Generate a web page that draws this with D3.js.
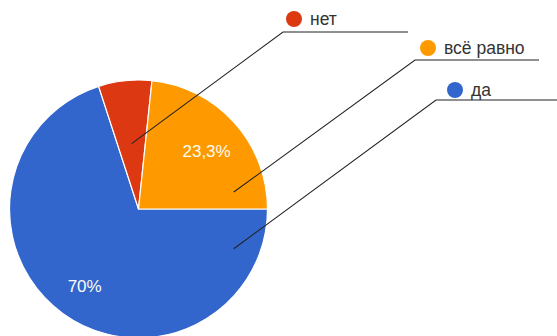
<!DOCTYPE html>
<html>
<head>
<meta charset="utf-8">
<script src="https://cdn.jsdelivr.net/npm/d3@7"></script>
<style>
  html, body { margin: 0; padding: 0; background: #fff; }
  svg { display: block; }
</style>
</head>
<body>
<svg id="chart" width="557" height="336"></svg>
<script>
// Survey answers (30 responses)
const categories = ["да", "нет", "всё равно"];
const counts = [21, 2, 7];
const colors = ["#3366cc", "#dc3912", "#ff9900"];

// Legend order on the right (top to bottom)
const legendOrder = ["нет", "всё равно", "да"];

const W = 557, H = 336;
const cx = 138.5, cy = 209, R = 129;

const svg = d3.select("#chart");
const total = d3.sum(counts);
const data = categories.map((c, i) => ({ name: c, value: counts[i], color: colors[i] }));

// Pie starts at 3 o'clock and runs clockwise
const pie = d3.pie().sort(null).value(d => d.value)
  .startAngle(Math.PI / 2).endAngle(Math.PI / 2 + 2 * Math.PI);
const arcs = pie(data);
const arc = d3.arc().innerRadius(0).outerRadius(R);
const labelArc = d3.arc().innerRadius(R * 0.71).outerRadius(R * 0.71);

const g = svg.append("g").attr("transform", `translate(${cx},${cy})`);

g.selectAll("path.slice").data(arcs).join("path")
  .attr("class", "slice")
  .attr("d", arc)
  .attr("fill", d => d.data.color)
  .attr("stroke", "#fff")
  .attr("stroke-width", 1.2);

// Percent labels inside the larger slices
const fmt = v => {
  const p = Math.round(v * 1000) / 10;
  return String(p).replace(".", ",") + "%";
};
g.selectAll("text.pct").data(arcs.filter(a => a.data.value / total >= 0.1)).join("text")
  .attr("class", "pct")
  .attr("transform", d => `translate(${labelArc.centroid(d)})`)
  .attr("text-anchor", "middle")
  .attr("dy", "0.55em")
  .attr("fill", "#fcfcf4")
  .style("font-family", "Arial, 'Liberation Sans', sans-serif")
  .style("font-size", "17px")
  .text(d => fmt(d.data.value / total));

// Callout layout: where each leader line starts inside its slice
// (fraction across the slice's angle, fraction of the radius), and the legend row
const callouts = {
  "нет":       { t: 0.5,  r: 0.51, dotX: 294, rowY: 19, lineX0: 283, lineX1: 408, lineY: 32 },
  "всё равно": { t: 0.88, r: 0.75, dotX: 428, rowY: 48, lineX0: 415, lineX1: 539, lineY: 60 },
  "да":        { t: 0.09, r: 0.80, dotX: 455, rowY: 90, lineX0: 436, lineX1: 580, lineY: 100 }
};

const lg = svg.append("g");
legendOrder.forEach(name => {
  const a = arcs.find(d => d.data.name === name);
  const c = callouts[name];
  const ang = a.startAngle + (a.endAngle - a.startAngle) * c.t;
  const ax = cx + Math.sin(ang) * R * c.r;
  const ay = cy - Math.cos(ang) * R * c.r;

  lg.append("path")
    .attr("d", `M${ax},${ay}L${c.lineX0},${c.lineY}L${c.lineX1},${c.lineY}`)
    .attr("fill", "none")
    .attr("stroke", "#222")
    .attr("stroke-width", 1.1);

  lg.append("circle")
    .attr("cx", c.dotX).attr("cy", c.rowY)
    .attr("r", 8)
    .attr("fill", a.data.color);

  lg.append("text")
    .attr("x", c.dotX + 16).attr("y", c.rowY)
    .attr("dy", "0.35em")
    .attr("fill", "#333")
    .style("font-family", "Arial, 'Liberation Sans', sans-serif")
    .style("font-size", "17.5px")
    .text(name);
});
</script>
</body>
</html>
